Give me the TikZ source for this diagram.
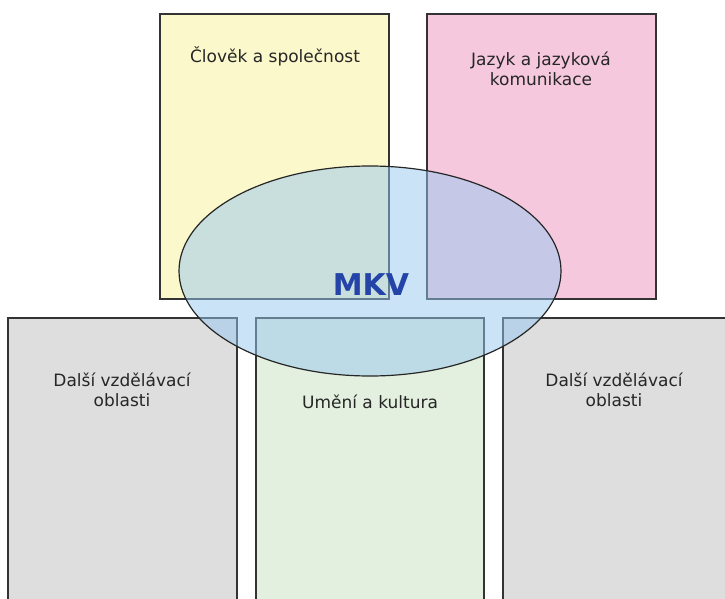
\documentclass[tikz,border=0pt]{standalone}
\usepackage{fontspec}
\setmainfont{DejaVu Sans}
\definecolor{cyellow}{RGB}{251,248,203}
\definecolor{cpink}{RGB}{245,200,222}
\definecolor{cgray}{RGB}{222,222,222}
\definecolor{cgreen}{RGB}{228,240,223}
\definecolor{cblue}{RGB}{150,200,240}
\definecolor{cmkv}{RGB}{36,68,168}
\begin{document}
\begin{tikzpicture}[x=1pt,y=-1pt,
  box/.style={draw=black!80,line width=1.2pt},
  lbl/.style={font=\fontsize{17}{20.5}\selectfont,align=center,text=black!85}]
\useasboundingbox (0,0) rectangle (725,599);
\def\ytop{318}
\def\ybot{599}
%upper row
%Shape: Rectangle
\draw[box,fill=cyellow] (160,14) rectangle (389,299);
% Text Node
\draw (275,56) node[lbl] (clovek) {Člověk a společnost};
%Shape: Rectangle
\draw[box,fill=cpink] (427,14) rectangle (656,299);
% Text Node
\draw (541,69) node[lbl] (jazyk) {Jazyk a jazyková\\komunikace};

%lower row
%Shape: open box
\draw[box,fill=cgray] (8,\ybot) -- (8,\ytop) -- (237,\ytop) -- (237,\ybot);
% Text Node
\draw (122,390) node[lbl] (dalsiL) {Další vzdělávací\\oblasti};
%Shape: open box
\draw[box,fill=cgreen] (256,\ybot) -- (256,\ytop) -- (484,\ytop) -- (484,\ybot);
% Text Node
\draw (370,402) node[lbl] (umeni) {Umění a kultura};
%Shape: open box
\fill[cgray] (503,\ytop) rectangle (725,\ybot);
\draw[box] (503,\ybot) -- (503,\ytop) -- (725,\ytop);
% Text Node
\draw (614,390) node[lbl] (dalsiR) {Další vzdělávací\\oblasti};

%Shape: Ellipse
\draw[draw=black!85,line width=1.2pt,fill=cblue,fill opacity=0.5] (370,271) ellipse [x radius=191,y radius=105];
% Text Node
\draw (371,285) node[font=\fontsize{30}{36}\selectfont\bfseries,text=cmkv] (mkv) {MKV};
\end{tikzpicture}
\end{document}
